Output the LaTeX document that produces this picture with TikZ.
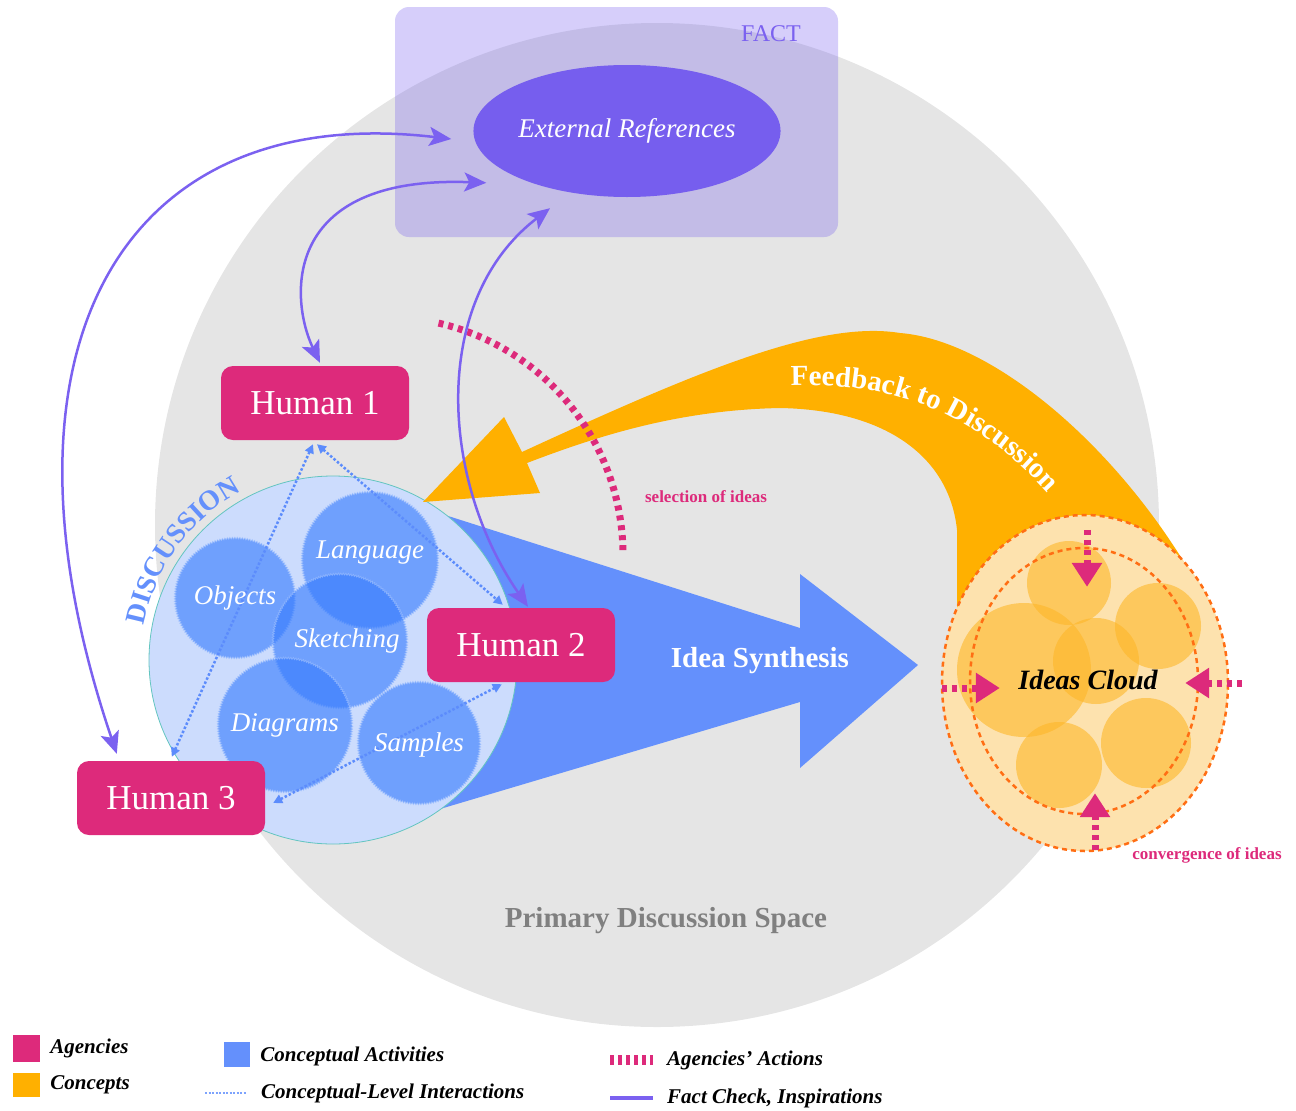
\documentclass[tikz,border=0pt]{standalone}
\usepackage{fontspec}
\setmainfont{Liberation Serif}
\usepackage{tikz}
\usetikzlibrary{shapes.geometric,arrows.meta,positioning,calc}
\usetikzlibrary{decorations.text,decorations.pathmorphing}
\definecolor{agency}{RGB}{221,42,123}
\definecolor{concept}{RGB}{255,176,0}
\definecolor{activity}{RGB}{100,144,252}
\definecolor{factline}{RGB}{123,97,240}
\definecolor{factfill}{RGB}{118,94,238}
\definecolor{discfill}{RGB}{204,220,253}
\definecolor{discedge}{RGB}{99,197,192}
\definecolor{bubbleblue}{RGB}{55,124,253}
\definecolor{cloudfill}{RGB}{253,226,174}
\definecolor{ideayellow}{RGB}{253,183,40}
\definecolor{cloudedge}{RGB}{255,110,20}
\definecolor{spacegray}{RGB}{229,229,229}
\definecolor{dotblue}{RGB}{92,140,252}
\newcommand{\setfs}[1]{\fontsize{#1}{#1}\selectfont}

\begin{document}
\begin{tikzpicture}[x=1pt, y=1pt,
	human/.style={rectangle, rounded corners=12pt, fill=agency, text=white,
		minimum width=188pt, minimum height=74pt, font=\setfs{35}},
	bubble/.style={circle, inner sep=0pt, fill=bubbleblue, fill opacity=0.62,
		draw=bubbleblue!45!white, draw opacity=0.6, line width=0.8pt,
		decorate, decoration={zigzag, segment length=2.5pt, amplitude=0.9pt}},
	bubbletext/.style={text=white, font=\setfs{27}\itshape},
	fact/.style={draw=factline, line width=2.5pt,
		{Stealth[length=22pt,width=19pt,inset=5pt]}-{Stealth[length=22pt,width=19pt,inset=5pt]}},
	interact/.style={draw=dotblue, line width=2.5pt, dash pattern=on 2.5pt off 2pt,
		{Triangle[length=9pt,width=9pt]}-{Triangle[length=9pt,width=9pt]}},
	action/.style={draw=agency, line width=7pt, dash pattern=on 5pt off 5pt},
	converge/.style={action, -{Triangle[length=24pt,width=29pt]}},
	legend/.style={font=\setfs{21}\bfseries\itshape, inner sep=0pt, anchor=west}]
	\useasboundingbox (0,0) rectangle (1296,-1111);
	%% primary discussion space
	\fill[spacegray] (657,-525) circle (502pt);
	%% idea synthesis
	\fill[activity] (360,-660) -- (445,-515) -- (800,-628) -- (800,-574) -- (918,-665)
		-- (800,-768) -- (800,-702) -- (440,-809) -- cycle;
	%% discussion
	\node[circle, minimum size=368pt, inner sep=0pt, fill=discfill, draw=discedge, line width=0.8pt] (disc) at (333,-660) {};
	\node[bubble, minimum size=120pt] (objects) at (235,-598) {};
	\node[bubble, minimum size=136pt] (language) at (370,-560) {};
	\node[bubble, minimum size=134pt] (sketching) at (340,-641) {};
	\node[bubble, minimum size=134pt] (diagrams) at (285,-725) {};
	\node[bubble, minimum size=122pt] (samples) at (419,-743) {};
	%% feedback to discussion
	\fill[concept] (423,-502) -- (504,-417) -- (522,-452) .. controls (700,-370) and (820,-320) .. (900,-333)
		.. controls (990,-340) and (1110,-440) .. (1187,-567) -- (1060,-640) -- (957,-610) -- (957,-530)
		.. controls (950,-460) and (890,-410) .. (780,-408) .. controls (680,-410) and (600,-435) .. (527,-463)
		-- (540,-493) -- cycle;
	%% fact
	\node[rectangle, rounded corners=14pt, fill=factfill, fill opacity=0.3, minimum width=443pt, minimum height=230pt] (factbox) at (616.5,-122) {};
	\node[text=factline, font=\setfs{24}] (factlabel) at (771,-34) {FACT};
	\node[ellipse, fill=factfill, minimum width=306pt, minimum height=132pt, inner sep=0pt, text=white, font=\setfs{27}\itshape] (ext) at (627,-131) {External References};
	%% ideas cloud
	\node[ellipse, minimum width=286pt, minimum height=336pt, fill=cloudfill] (cloud) at (1085,-683) {};
	\fill[ideayellow, fill opacity=0.6] (1069,-583) circle (42pt);
	\fill[ideayellow, fill opacity=0.6] (1158,-626) circle (43pt);
	\fill[ideayellow, fill opacity=0.6] (1024,-670) circle (67pt);
	\fill[ideayellow, fill opacity=0.6] (1096,-661) circle (43pt);
	\fill[ideayellow, fill opacity=0.6] (1146,-743) circle (45pt);
	\fill[ideayellow, fill opacity=0.6] (1059,-765) circle (43pt);
	\draw[cloudedge, line width=2.5pt, dash pattern=on 5pt off 4pt] (1084,-681) ellipse (114pt and 133pt);
	\draw[cloudedge, line width=2.5pt, dash pattern=on 5pt off 4pt] (cloud.center) ellipse (143pt and 168pt);
	\node[font=\setfs{28}\bfseries\itshape] (ideas) at (1088,-680) {Ideas Cloud};
	\draw[converge] ($(cloud.north)+(2,-15)$) -- ($(cloud.north)+(2,-72)$);
	\draw[converge] ($(cloud.west)+(0,-5)$) -- ($(cloud.west)+(58,-5)$);
	\draw[converge] ($(cloud.east)+(14,0)$) -- ($(cloud.east)+(-43,0)$);
	\draw[converge] ($(cloud.south)+(10,1)$) -- ($(cloud.south)+(10,58)$);
	%% selection of ideas
	\draw[action] (385,-555) ++(77:238pt) arc (77:0:238pt);
	%% agencies
	\node[human] (h1) at (315,-403) {Human 1};
	\node[human] (h2) at (521,-645) {Human 2};
	\node[human] (h3) at (171,-798) {Human 3};
	%% fact check
	\path[fact] ([xshift=40pt,yshift=7pt]h3.north west) .. controls (-20,-350) and (120,-100) .. ([xshift=-22pt,yshift=-8pt]ext.west);
	\path[fact] ([xshift=5pt,yshift=3pt]h1.north) .. controls (290,-300) and (280,-175) .. ([xshift=-32pt,yshift=-5pt]ext.south west);
	\path[fact] ([xshift=7pt,yshift=1pt]h2.north) .. controls (440,-480) and (430,-300) .. ([xshift=-77pt,yshift=-11pt]ext.south);
	%% interactions
	\path[interact] ([xshift=2pt,yshift=-4pt]h1.south) -- ([xshift=76pt,yshift=3pt]h2.north west);
	\path[interact] ([xshift=-2pt,yshift=-4pt]h1.south) -- ([xshift=95pt,yshift=4pt]h3.north west);
	\path[interact] ([xshift=8pt,yshift=-5pt]h3.east) -- ([xshift=75pt,yshift=-2pt]h2.south west);
	%% labels
	\node[bubbletext] at (objects) {Objects};
	\node[bubbletext] at ([yshift=7pt]language.center) {Language};
	\node[bubbletext] at ([xshift=7pt]sketching.center) {Sketching};
	\node[bubbletext] at (diagrams) {Diagrams};
	\node[bubbletext] at ([yshift=-2pt]samples.center) {Samples};
	\path[decorate, decoration={text along path, text align=center,
		text={|\setfs{28}\bfseries\color{activity}|DISCUSSION}}]
		(disc.center) ++(174:192pt) arc (174:114:192pt);
	\path[decorate, decoration={text along path, text align=center,
		text={|\setfs{29}\bfseries\color{white}|Feedback to Discussion}}]
		(781,-386) .. controls (870,-382) and (962,-395) .. (1054,-500);
	\node[text=white, font=\setfs{29}\bfseries] (synth) at (760,-661) {Idea Synthesis};
	\node[text=agency, font=\setfs{17}\bfseries] (select) at (706,-497) {selection of ideas};
	\node[text=agency, font=\setfs{17}\bfseries] (conv) at (1207,-855) {convergence of ideas};
	\node[text=black!50, font=\setfs{29}\bfseries] (space) at (666,-921) {Primary Discussion Space};
	%% legend
	\node[fill=agency, minimum width=27pt, minimum height=27pt, inner sep=0pt] (lg-agency) at (26.5,-1048.5) {};
	\node[legend, right=10pt of lg-agency] {Agencies};
	\node[fill=concept, minimum width=27pt, minimum height=24pt, inner sep=0pt] (lg-concept) at (26.5,-1085) {};
	\node[legend, right=10pt of lg-concept] {Concepts};
	\node[fill=activity, minimum width=26pt, minimum height=25pt, inner sep=0pt] (lg-activity) at (237,-1054.5) {};
	\node[legend, right=10pt of lg-activity, yshift=-2pt] {Conceptual Activities};
	\coordinate (lg-dot-a) at (205,-1093);
	\coordinate (lg-dot-b) at (246,-1093);
	\draw[dotblue!80!white, line width=2.5pt, dash pattern=on 2pt off 1.5pt] (lg-dot-a) -- (lg-dot-b);
	\node[legend, right=15pt of lg-dot-b] {Conceptual-Level Interactions};
	\coordinate (lg-act-a) at (610,-1060);
	\coordinate (lg-act-b) at (653,-1060);
	\draw[agency, line width=10pt, dash pattern=on 4pt off 4pt] (lg-act-a) -- (lg-act-b);
	\node[legend, right=14pt of lg-act-b] {Agencies’ Actions};
	\coordinate (lg-fact-a) at (610,-1098);
	\coordinate (lg-fact-b) at (653,-1098);
	\draw[factline, line width=3.5pt] (lg-fact-a) -- (lg-fact-b);
	\node[legend, right=14pt of lg-fact-b] {Fact Check, Inspirations};
\end{tikzpicture}
\end{document}
